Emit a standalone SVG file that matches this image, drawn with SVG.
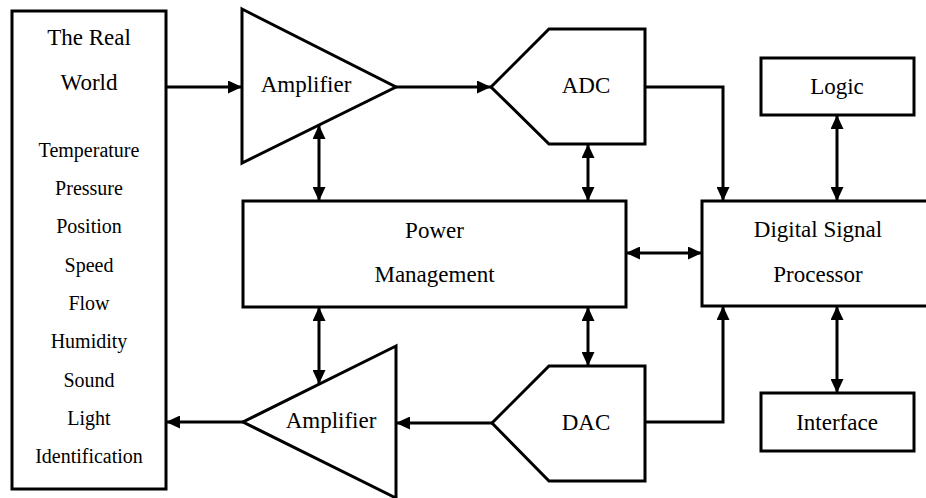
<svg xmlns="http://www.w3.org/2000/svg" width="926" height="498" viewBox="0 0 926 498">
<style>
.s{fill:#fff;stroke:#000;stroke-width:3;stroke-linejoin:miter}
.c{fill:none;stroke:#000;stroke-width:3}
.t{font-family:Liberation Serif, Tinos, Times New Roman, DejaVu Serif, serif;fill:#000;text-anchor:middle}
.b{font-size:23px}
.m{font-size:20px}
</style>
<defs>
<marker id="ah" viewBox="0 0 14 13" refX="14" refY="6.5" markerWidth="14" markerHeight="13" markerUnits="userSpaceOnUse" orient="auto-start-reverse">
<path d="M0,0 L14,6.5 L0,13 Z" fill="#000"/>
</marker>
</defs>
<g id="real-world">
<rect class="s" x="12" y="11" width="154" height="478"/>
<text class="t b" x="89" y="45">The Real</text>
<text class="t b" x="89" y="90">World</text>
<text class="t m" x="89" y="157">Temperature</text>
<text class="t m" x="89" y="195">Pressure</text>
<text class="t m" x="89" y="233">Position</text>
<text class="t m" x="89" y="272">Speed</text>
<text class="t m" x="89" y="310">Flow</text>
<text class="t m" x="89" y="348">Humidity</text>
<text class="t m" x="89" y="387">Sound</text>
<text class="t m" x="89" y="425">Light</text>
<text class="t m" x="89" y="463">Identification</text>
</g>
<g id="amp-top">
<polygon class="s" points="242,9 396,87 242,163"/>
<text class="t b" x="306" y="92">Amplifier</text>
</g>
<g id="adc">
<polygon class="s" points="491,87 549,29 645,29 645,144 549,144"/>
<text class="t b" x="586" y="93">ADC</text>
</g>
<g id="power">
<rect class="s" x="243" y="201" width="383" height="106"/>
<text class="t b" x="434.5" y="238">Power</text>
<text class="t b" x="434.5" y="282">Management</text>
</g>
<g id="dsp">
<rect class="s" x="702" y="201" width="230" height="105"/>
<text class="t b" x="818" y="237">Digital Signal</text>
<text class="t b" x="818" y="282">Processor</text>
</g>
<g id="logic">
<rect class="s" x="761" y="58" width="153" height="57"/>
<text class="t b" x="837" y="94">Logic</text>
</g>
<g id="interface">
<rect class="s" x="761" y="393" width="153" height="58"/>
<text class="t b" x="837" y="430">Interface</text>
</g>
<g id="dac">
<polygon class="s" points="492,423 549,366 645,366 645,481 549,481"/>
<text class="t b" x="586" y="430">DAC</text>
</g>
<g id="amp-bottom">
<polygon class="s" points="396,346 243,422 396,498"/>
<text class="t b" x="331" y="428">Amplifier</text>
</g>
<g id="connectors">
<line class="c" x1="166" y1="87" x2="242" y2="87" marker-end="url(#ah)"/>
<line class="c" x1="396" y1="87" x2="491" y2="87" marker-end="url(#ah)"/>
<line class="c" x1="319" y1="125" x2="319" y2="201" marker-start="url(#ah)" marker-end="url(#ah)"/>
<line class="c" x1="588" y1="144" x2="588" y2="201" marker-start="url(#ah)" marker-end="url(#ah)"/>
<polyline class="c" points="645,87 723,87 723,201" marker-end="url(#ah)"/>
<line class="c" x1="837" y1="115" x2="837" y2="201" marker-start="url(#ah)" marker-end="url(#ah)"/>
<line class="c" x1="626" y1="253" x2="702" y2="253" marker-start="url(#ah)" marker-end="url(#ah)"/>
<line class="c" x1="837" y1="306" x2="837" y2="393" marker-start="url(#ah)" marker-end="url(#ah)"/>
<polyline class="c" points="645,422 723,422 723,306" marker-end="url(#ah)"/>
<line class="c" x1="588" y1="307" x2="588" y2="366" marker-start="url(#ah)" marker-end="url(#ah)"/>
<line class="c" x1="319" y1="307" x2="319" y2="384" marker-start="url(#ah)" marker-end="url(#ah)"/>
<line class="c" x1="492" y1="423" x2="396" y2="423" marker-end="url(#ah)"/>
<line class="c" x1="243" y1="422" x2="166" y2="422" marker-end="url(#ah)"/>
</g>
</svg>
